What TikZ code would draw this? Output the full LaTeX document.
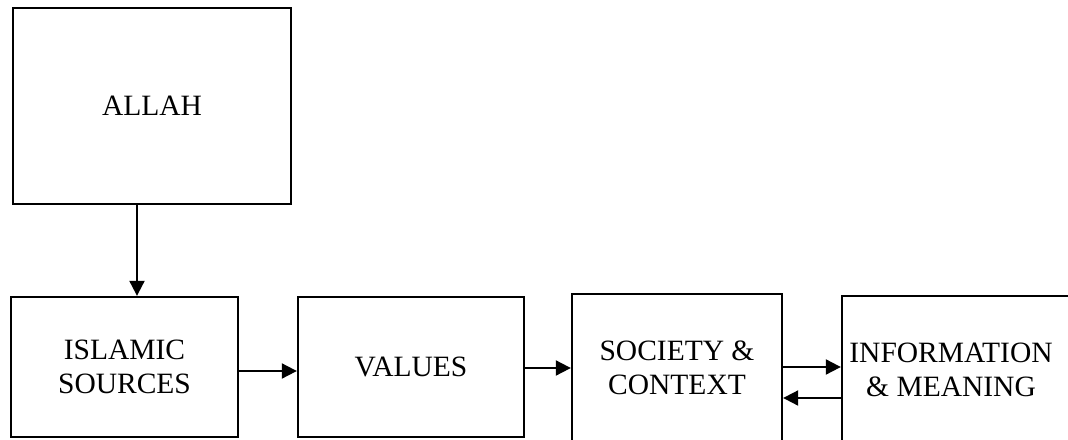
\documentclass[tikz,border=0pt]{standalone}
\usepackage{fontspec}
\setmainfont{Liberation Serif}
\usetikzlibrary{arrows.meta}

\tikzset{
  box/.style={draw=black, line width=2.3pt, rectangle, inner sep=0pt,
              align=center, font=\fontsize{29.5}{34}\selectfont},
  lbl/.style={inner sep=0pt, align=center, font=\fontsize{29.5}{34}\selectfont},
  flow/.style={draw=black, line width=1.9pt,
               -{Triangle[length=15pt,width=15pt]}}
}

\begin{document}
\begin{tikzpicture}[x=1pt, y=-1pt]
  \useasboundingbox (0,0) rectangle (1068,439);
  \clip (0,0) rectangle (1068,439);

  % boxes
  \node[box, minimum width=278pt, minimum height=196pt] (allah) at (152,106) {ALLAH};
  \node[box, minimum width=227pt, minimum height=140pt] (islamic) at (124.5,367) {ISLAMIC\\SOURCES};
  \node[box, minimum width=226pt, minimum height=140pt] (values) at (411,367) {VALUES};
  \node[box, minimum width=210pt, minimum height=148pt] (society) at (677,368) {SOCIETY \&\\CONTEXT};
  \node[box, minimum width=240pt, minimum height=160pt] (info) at (962,376) {};
  \node[lbl] (infotext) at (951,370) {INFORMATION\\\& MEANING};

  % connector rows and columns
  \coordinate (colA) at (137,0);
  \coordinate (rowA) at (0,371);
  \coordinate (rowB) at (0,368);
  \coordinate (rowC) at (0,367);
  \coordinate (rowD) at (0,398);

  % connectors
  \draw[flow] (allah.south -| colA) -- (islamic.north -| colA);
  \draw[flow] (islamic.east |- rowA) -- (values.west |- rowA);
  \draw[flow] (values.east |- rowB) -- (society.west |- rowB);
  \draw[flow] (society.east |- rowC) -- (info.west |- rowC);
  \draw[flow] (info.west |- rowD) -- (society.east |- rowD);
\end{tikzpicture}
\end{document}
